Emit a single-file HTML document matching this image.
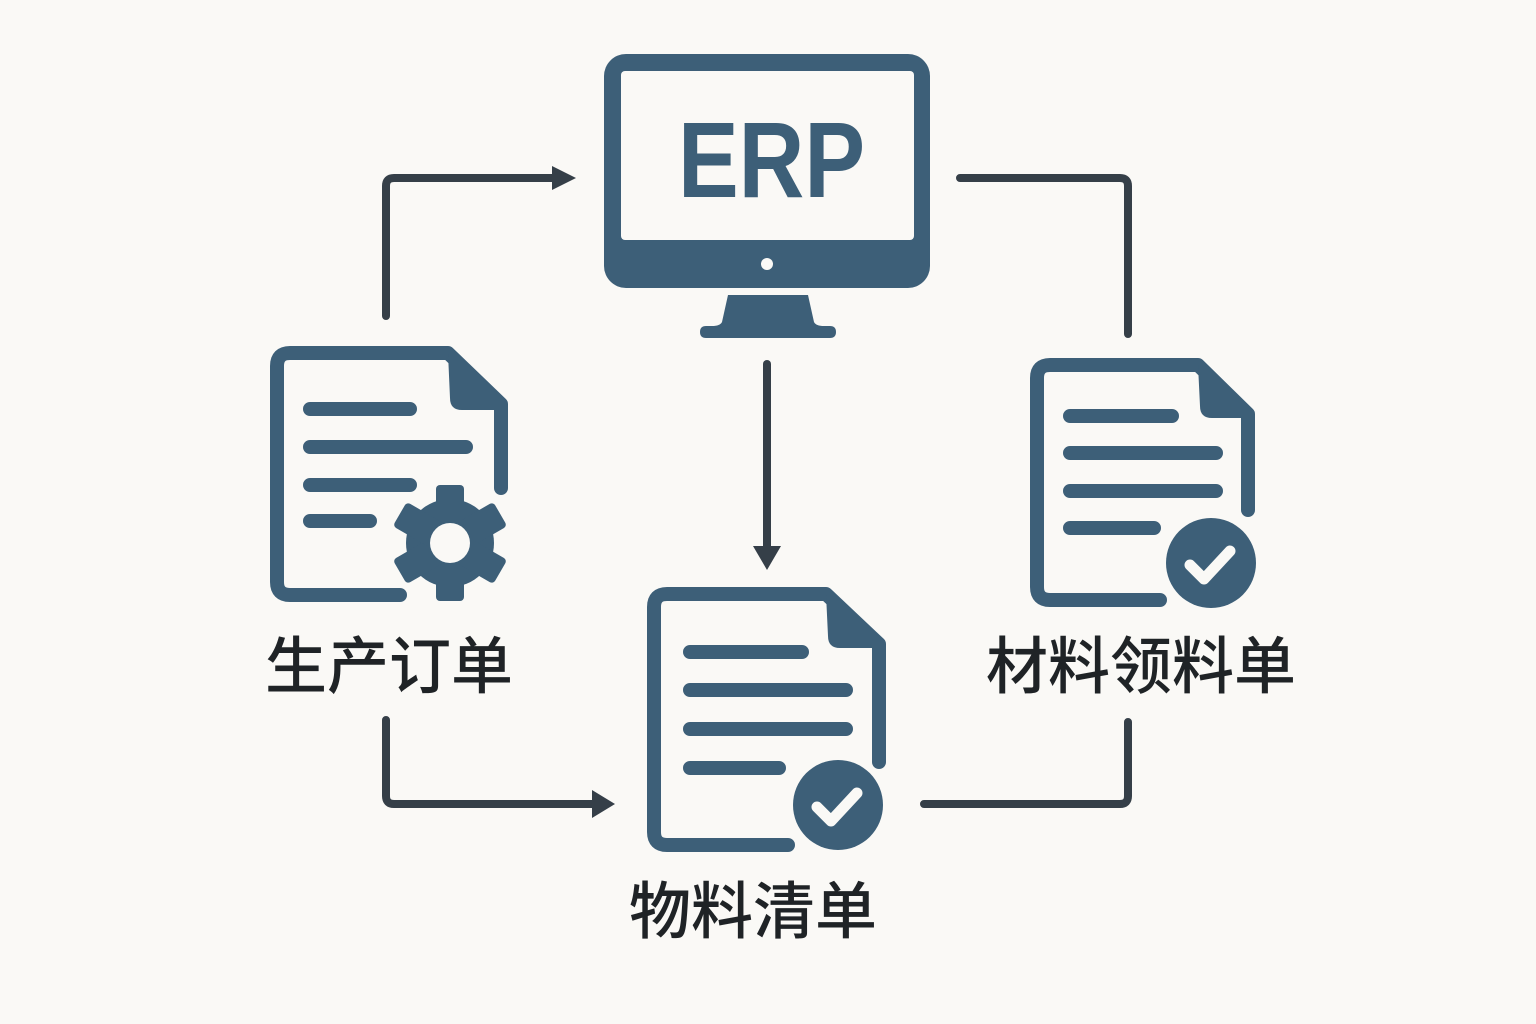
<!DOCTYPE html>
<html><head><meta charset="utf-8"><style>
html,body{margin:0;padding:0;background:#faf9f6;}
svg{display:block}
</style></head><body>
<svg width="1536" height="1024" viewBox="0 0 1536 1024" xmlns="http://www.w3.org/2000/svg">
<rect width="1536" height="1024" fill="#faf9f6"/>
<g fill="none" stroke="#353f48" stroke-width="8" stroke-linecap="round" stroke-linejoin="round">
  <path d="M386 316 V186 Q386 178 394 178 H556"/>
  <path d="M960 178 H1120 Q1128 178 1128 186 V334"/>
  <path d="M767 364 V550"/>
  <path d="M386 720 V796 Q386 804 394 804 H596"/>
  <path d="M924 804 H1120 Q1128 804 1128 796 V722"/>
</g>
<g fill="#353f48">
  <path d="M552 166 L576 178 L552 190 Z"/>
  <path d="M753 546 L767 570 L781 546 Z"/>
  <path d="M592 790 L615 804 L592 818 Z"/>
</g>
<g fill="#3d5f78">
  <rect x="604" y="54" width="326" height="234" rx="22"/>
  <path d="M728 295 H808 L814 322 Q816 326 824 326 H830 Q836 326 836 332 Q836 338 830 338 H706 Q700 338 700 332 Q700 326 706 326 H712 Q720 326 722 322 Z"/>
</g>
<rect x="621" y="71" width="293" height="169" rx="4" fill="#faf9f6"/>
<circle cx="767" cy="264" r="6" fill="#faf9f6"/>
<text x="678" y="197" textLength="187" lengthAdjust="spacingAndGlyphs" font-family="Liberation Sans, sans-serif" font-weight="bold" font-size="108" fill="#3d5f78">ERP</text>
<g fill="none" stroke="#3d5f78" stroke-width="14" stroke-linecap="round" stroke-linejoin="round">
  <path d="M400 595 H290 Q277 595 277 582 V366 Q277 353 290 353 H448 L501 404 V488"/>
  <path d="M310 409 H410 M310 447 H466 M310 485 H410 M310 521 H370"/>
</g>
<path d="M448 353 L501 404 V410 H462 Q450 410 450 398 Z" fill="#3d5f78"/>
<g fill="#3d5f78" transform="translate(450,543)">
  <circle r="44"/>
  <rect x="-14" y="-58" width="28" height="116" rx="4"/>
  <rect x="-14" y="-58" width="28" height="116" rx="4" transform="rotate(60)"/>
  <rect x="-14" y="-58" width="28" height="116" rx="4" transform="rotate(120)"/>
</g>
<circle cx="450" cy="543" r="20" fill="#faf9f6"/>
<g fill="none" stroke="#3d5f78" stroke-width="14" stroke-linecap="round" stroke-linejoin="round">
  <path d="M788 845 H667 Q654 845 654 832 V607 Q654 594 667 594 H826 L879 644 V762"/>
  <path d="M690 652 H802 M690 690 H846 M690 729 H846 M690 768 H779"/>
</g>
<path d="M826 594 L879 644 V648 H840 Q828 648 828 636 Z" fill="#3d5f78"/>
<circle cx="838" cy="805" r="45" fill="#3d5f78"/>
<path d="M817 807 L831 821 L857 793" fill="none" stroke="#faf9f6" stroke-width="11" stroke-linecap="round" stroke-linejoin="round"/>
<g fill="none" stroke="#3d5f78" stroke-width="14" stroke-linecap="round" stroke-linejoin="round">
  <path d="M1160 600 H1050 Q1037 600 1037 587 V378 Q1037 365 1050 365 H1198 L1248 414 V510"/>
  <path d="M1070 416 H1172 M1070 453 H1216 M1070 491 H1216 M1070 528 H1154"/>
</g>
<path d="M1198 365 L1248 414 V418 H1212 Q1200 418 1200 406 Z" fill="#3d5f78"/>
<circle cx="1211" cy="563" r="45" fill="#3d5f78"/>
<path d="M1190 565 L1204 579 L1230 551" fill="none" stroke="#faf9f6" stroke-width="11" stroke-linecap="round" stroke-linejoin="round"/>
<g font-family="Liberation Sans, Noto Sans CJK SC, sans-serif" font-weight="500" font-size="62" fill="#1f2326" text-anchor="middle">
  <text x="389" y="688">生产订单</text>
  <text x="1141" y="688">材料领料单</text>
  <text x="753" y="933">物料清单</text>
</g>
</svg>
</body></html>
